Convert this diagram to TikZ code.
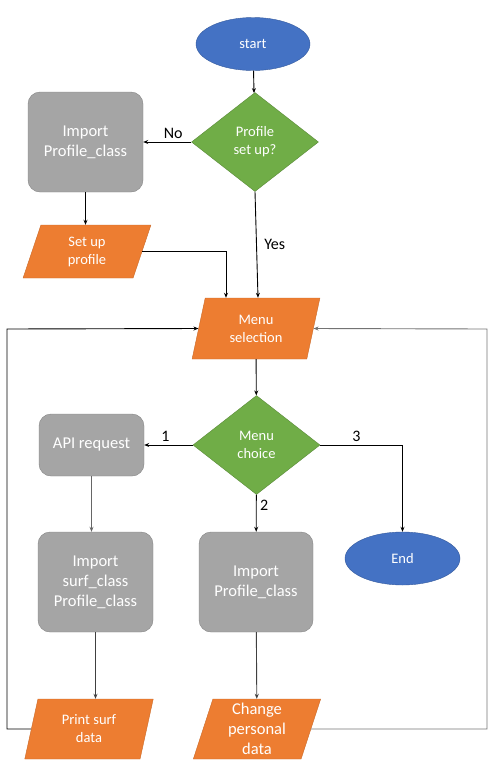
\documentclass[tikz,border=0pt]{standalone}
\usepackage{fontspec}
\setmainfont{Carlito}
\usepackage{tikz}
\usetikzlibrary{shapes.geometric,arrows.meta}
\definecolor{fcblue}{HTML}{4472C4}
\definecolor{fcgreen}{HTML}{70AD47}
\definecolor{fcorange}{HTML}{ED7D31}
\definecolor{fcgray}{HTML}{A5A5A5}

\begin{document}
\begin{tikzpicture}[x=1pt,y=-1pt]
    \tikzstyle{term}=[ellipse, fill=fcblue, draw=fcblue!80!black, text=white, font=\fontsize{14.5}{18}\selectfont, minimum width=114pt, minimum height=53pt, inner sep=0pt]
    \tikzstyle{choice}=[diamond, fill=fcgreen, draw=fcgreen!80!black, text=white, font=\fontsize{14.5}{18}\selectfont, align=center, minimum width=127pt, minimum height=99pt, inner sep=0pt]
    \tikzstyle{proc}=[rectangle, rounded corners=12pt, fill=fcgray, draw=fcgray!80!black, text=white, font=\fontsize{16.5}{20}\selectfont, align=center, minimum width=115pt, minimum height=100pt, inner sep=0pt]
    \tikzstyle{io}=[trapezium, trapezium stretches=true, trapezium left angle=76, trapezium right angle=104, fill=fcorange, draw=fcorange!85!black, text=white, font=\fontsize{14.5}{18}\selectfont, align=center, minimum width=128pt, minimum height=53pt, inner sep=0pt]
    \tikzstyle{link}=[black, line width=0.9pt, -{Stealth[length=5pt,width=4pt]}]
    \tikzstyle{lab}=[font=\fontsize{16}{18}\selectfont, text=black]
    \useasboundingbox (0,0) rectangle (495,777);
    \node[term] (start) at (253,44) {start};
    \node[choice] (q1) at (255,142) {Profile\\set up?};
    \node[proc] (imp1) at (85.5,142) {Import\\Profile\_class};
    \node[io] (setup) at (87,251.5) {Set up\\profile};
    \node[io, minimum height=61pt] (menu) at (256,328.5) {Menu\\selection};
    \node[choice] (q2) at (256.5,445) {Menu\\choice};
    \node[proc, minimum width=105pt, minimum height=62pt] (api) at (91.5,445) {API request};
    \node[term, minimum width=115pt] (end) at (402.5,558.5) {End};
    \node[proc] (imp2) at (95.5,582) {Import\\surf\_class\\Profile\_class};
    \node[proc, minimum width=114pt] (imp3) at (256,582) {Import\\Profile\_class};
    \node[io, minimum width=129pt, minimum height=60pt] (prt) at (89,729) {Print surf\\data};
    \node[io, minimum height=60pt, font=\fontsize{16.5}{20}\selectfont] (chg) at (257,729) {Change\\personal\\data};
    \coordinate (lft) at (7,329);
    \coordinate (rgt) at (487,329);

    \draw[link] (start) -- (q1);
    \draw[link] (q1) -- node[lab, above, xshift=6pt] {No} (imp1);
    \draw[link] (imp1) -- (imp1 |- setup.north);
    \draw[link] (setup.east) -| ([xshift=-30pt]menu.north);
    \draw[link] (q1.south) -- node[lab, right, xshift=4pt] {Yes} ([xshift=2pt]menu.north);
    \draw[link] (menu) -- (q2);
    \draw[link] (q2) -- node[lab, above, xshift=-3pt] {1} (api);
    \draw[link] (q2.east) -| node[lab, above, pos=0.22] {3} (end.north);
    \draw[link] (q2) -- node[lab, right, pos=0.3] {2} (imp3);
    \draw[link, black!60] (api) -- (api |- imp2.north);
    \draw[link, black!75] (imp2.south) -- (imp2.south |- prt.north);
    \draw[link, black!75] (imp3) -- (chg);
    \draw[link] (prt.west) -| (lft) -- (menu.west);
    \draw[link, black!55] (chg.east) -| (rgt) -- (menu.east);
\end{tikzpicture}
\end{document}
